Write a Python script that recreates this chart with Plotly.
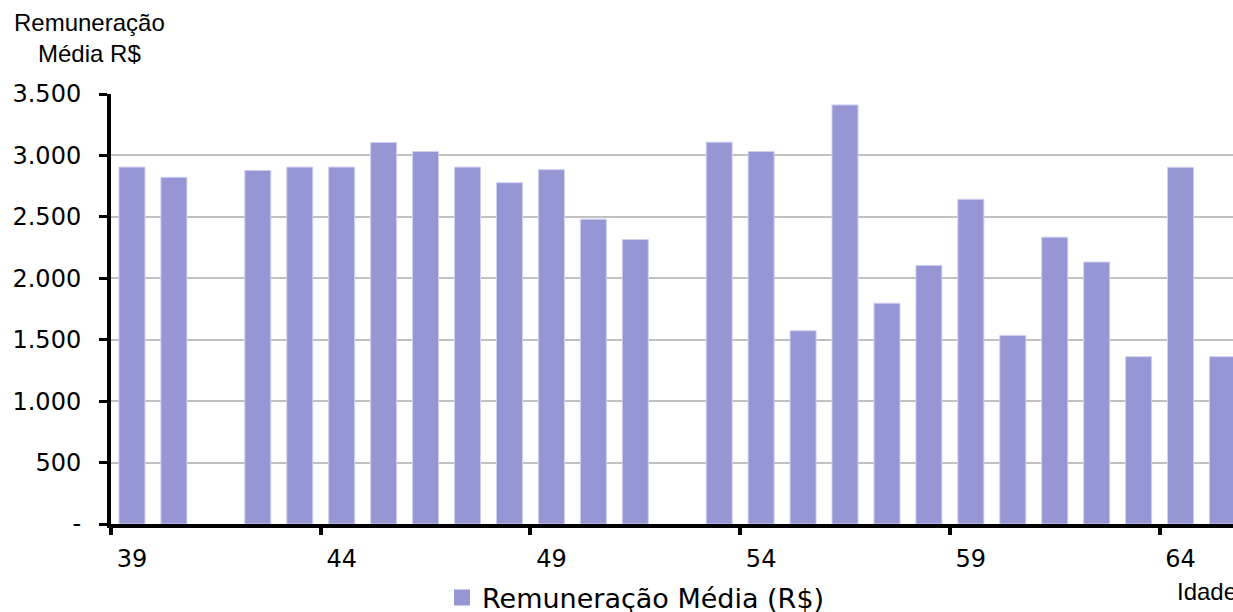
import plotly.graph_objects as go

ages = [str(a) for a in range(39, 66)]
remuneracao = [2905, 2822, None, 2878, 2905, 2905, 3105, 3032, 2905, 2778,
               2884, 2481, 2316, None, 3108, 3032, 1573, 3411, 1797, 2105,
               2643, 1535, 2335, 2132, 1362, 2903, 1362]
y_ticks = [0, 500, 1000, 1500, 2000, 2500, 3000, 3500]
y_ticktext = ["-"] + [f"{v:,}".replace(",", ".") for v in y_ticks[1:]]

series_name = "Remuneração Média (R$)"
bar_color = "#9696D4"

fig = go.Figure()
fig.add_trace(go.Bar(
    x=ages, y=remuneracao, name=series_name, showlegend=False,
    marker=dict(color=bar_color, line=dict(color="#cfcff2", width=1)),
))
fig.add_trace(go.Scatter(
    x=[None], y=[None], mode="markers", name=series_name,
    marker=dict(symbol="square", size=16, color=bar_color),
))

fig.update_layout(
    width=1233, height=612,
    margin=dict(l=111, r=0, t=94, b=88, autoexpand=False),
    paper_bgcolor="white", plot_bgcolor="white",
    bargap=0.38,
    showlegend=True,
    legend=dict(orientation="h", xref="container", yref="container",
                x=0.5158, xanchor="center", y=0.0229, yanchor="middle",
                font=dict(family="DejaVu Sans", size=27, color="black"),
                itemclick=False),
    xaxis=dict(
        type="category", categoryorder="array", categoryarray=ages,
        range=[-0.5, 26.25], automargin=False,
        tickmode="linear", tick0=0, dtick=5, tickson="boundaries",
        showgrid=False, showline=True, linecolor="black", linewidth=4,
        ticks="outside", ticklen=7, tickwidth=4, tickcolor="black",
        tickfont=dict(family="DejaVu Sans", size=24, color="black"),
        ticklabelstandoff=10, zeroline=False,
    ),
    yaxis=dict(
        range=[0, 3500], tickmode="array", tickvals=y_ticks, ticktext=y_ticktext,
        automargin=False,
        showgrid=True, gridcolor="#c0c0c0", gridwidth=2,
        showline=True, linecolor="black", linewidth=4,
        ticks="outside", ticklen=8, tickwidth=3, tickcolor="black",
        tickfont=dict(family="DejaVu Sans", size=24, color="black"),
        ticklabelstandoff=13, zeroline=False,
    ),
    annotations=[
        dict(text="Remuneração<br>Média R$", xref="paper", yref="paper",
             x=0, y=1, xshift=-22, yshift=56, xanchor="center", yanchor="middle",
             align="center", showarrow=False,
             font=dict(family="Liberation Sans", size=24, color="black")),
        dict(text="Idade", xref="paper", yref="paper", x=0.948, y=-0.157,
             xanchor="left", yanchor="middle", showarrow=False,
             font=dict(family="Liberation Sans", size=24, color="black")),
    ],
)

fig.write_html(
    "out.html",
    config={"displayModeBar": False},
    post_script="document.body.style.margin='0';document.body.style.overflow='hidden';",
)
